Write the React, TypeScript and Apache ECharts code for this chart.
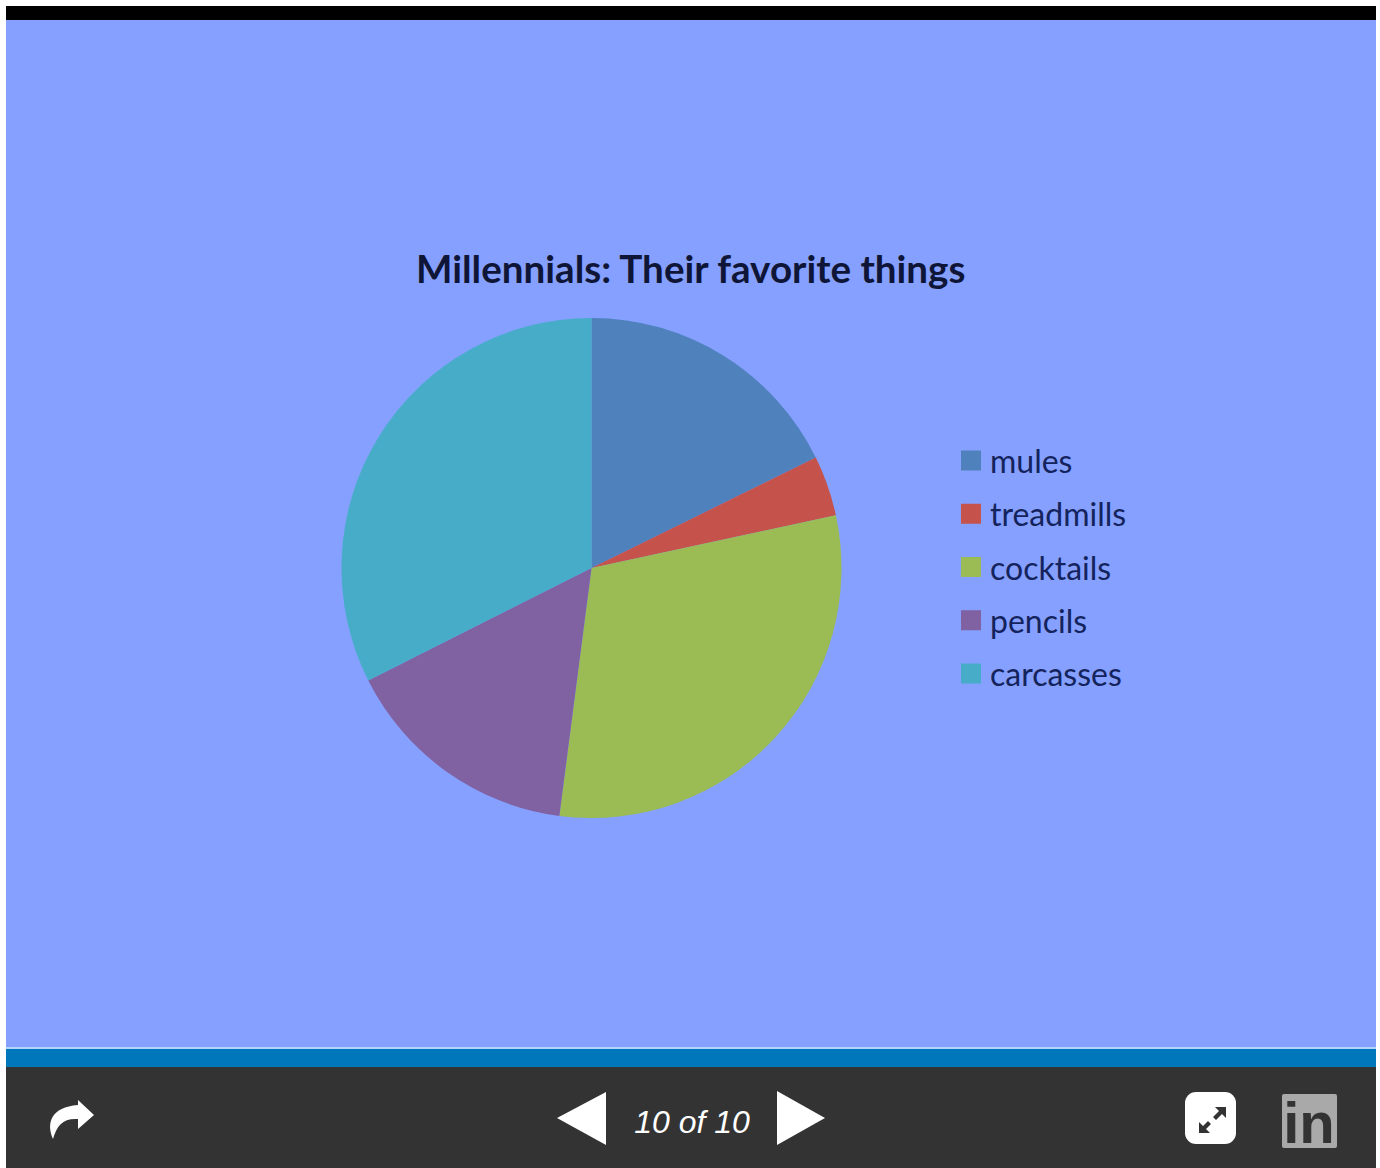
import React, { useEffect, useRef } from "react";
import * as echarts from "echarts";

const categories = ["mules", "treadmills", "cocktails", "pencils", "carcasses"];
const shares = [17.7, 3.9, 30.4, 15.5, 32.4];
const colors = ["#4f81bd", "#c5524b", "#9bbb54", "#8061a2", "#47acc8"];
const chartTitle = "Millennials: Their favorite things";
const pageLabel = "10 of 10";

const SHARE_PATH =
  "M53 1139 C46 1123 51 1107 78 1105 L78 1100 L94 1115 L78 1129 L78 1119 C63 1118 57 1125 53 1139 Z";
const ARROW_PATH =
  "M1215 1107 L1226 1107 L1226 1118 L1222 1114 L1216 1120 L1213 1117 L1219 1111 Z M1199 1122 L1203 1126 L1208 1121 L1211 1124 L1206 1129 L1210 1133 L1199 1133 Z";

echarts.graphic.registerShape("shareArrow", echarts.graphic.extendPath(SHARE_PATH, {}));
echarts.graphic.registerShape("expandArrow", echarts.graphic.extendPath(ARROW_PATH, {}));

const rect = (x: number, y: number, width: number, height: number, fill: string, r = 0) => ({
  type: "rect",
  silent: true,
  shape: { x, y, width, height, r },
  style: { fill },
});

export default function App() {
  const ref = useRef<HTMLDivElement>(null);

  useEffect(() => {
    const chart = echarts.init(ref.current!, undefined, { renderer: "svg" });
    chart.setOption({
      animation: false,
      backgroundColor: "#ffffff",
      title: {
        text: chartTitle,
        left: 416,
        top: 248,
        padding: 0,
        textStyle: { fontFamily: "Lato", fontWeight: "bold", fontSize: 38.6, color: "#0f1536" },
      },
      legend: {
        orient: "vertical",
        left: 961,
        top: 444.5,
        padding: 0,
        itemWidth: 20,
        itemHeight: 20,
        itemGap: 21.25,
        icon: "rect",
        data: categories,
        textStyle: { fontFamily: "Lato", fontSize: 32, color: "#14235c", padding: [0, 0, 3, 4] },
      },
      series: [
        {
          type: "pie",
          center: [591.5, 568],
          radius: [0, 250],
          startAngle: 90,
          clockwise: true,
          silent: true,
          label: { show: false },
          labelLine: { show: false },
          itemStyle: { borderWidth: 0 },
          data: categories.map((name, i) => ({
            name,
            value: shares[i],
            itemStyle: { color: colors[i] },
          })),
        },
      ],
      graphic: [
        {
          type: "group",
          z: -10,
          silent: true,
          children: [
            rect(6, 6, 1370, 14, "#000000"),
            rect(6, 20, 1370, 1027, "#85a0ff"),
            rect(6, 1047, 1370, 2, "#b5d3ff"),
            rect(6, 1049, 1370, 18, "#0077ba"),
            rect(6, 1067, 1370, 101, "#333333"),
          ],
        },
        {
          type: "group",
          z: 10,
          silent: true,
          children: [
            { type: "shareArrow", style: { fill: "#ffffff" } },
            {
              type: "polygon",
              shape: { points: [[557, 1118], [606, 1092], [606, 1145]] },
              style: { fill: "#ffffff" },
            },
            {
              type: "polygon",
              shape: { points: [[777, 1091], [825, 1118], [777, 1145]] },
              style: { fill: "#ffffff" },
            },
            {
              type: "text",
              x: 692,
              y: 1122,
              style: {
                text: pageLabel,
                fill: "#ffffff",
                font: "italic 32px 'Liberation Sans'",
                align: "center",
                verticalAlign: "middle",
              },
            },
            rect(1185, 1092, 51, 52, "#ffffff", 11),
            { type: "expandArrow", style: { fill: "#333333" } },
            rect(1282, 1094, 55, 54, "#a9a9a9", 2),
            {
              type: "text",
              x: 1309,
              y: 1122,
              style: {
                text: "in",
                fill: "#333333",
                font: "bold 58px 'Liberation Sans'",
                align: "center",
                verticalAlign: "middle",
              },
            },
          ],
        },
      ],
    });
    return () => chart.dispose();
  }, []);

  return (
    <div
      ref={ref}
      style={{ position: "absolute", left: 0, top: 0, width: 1380, height: 1168 }}
    />
  );
}
